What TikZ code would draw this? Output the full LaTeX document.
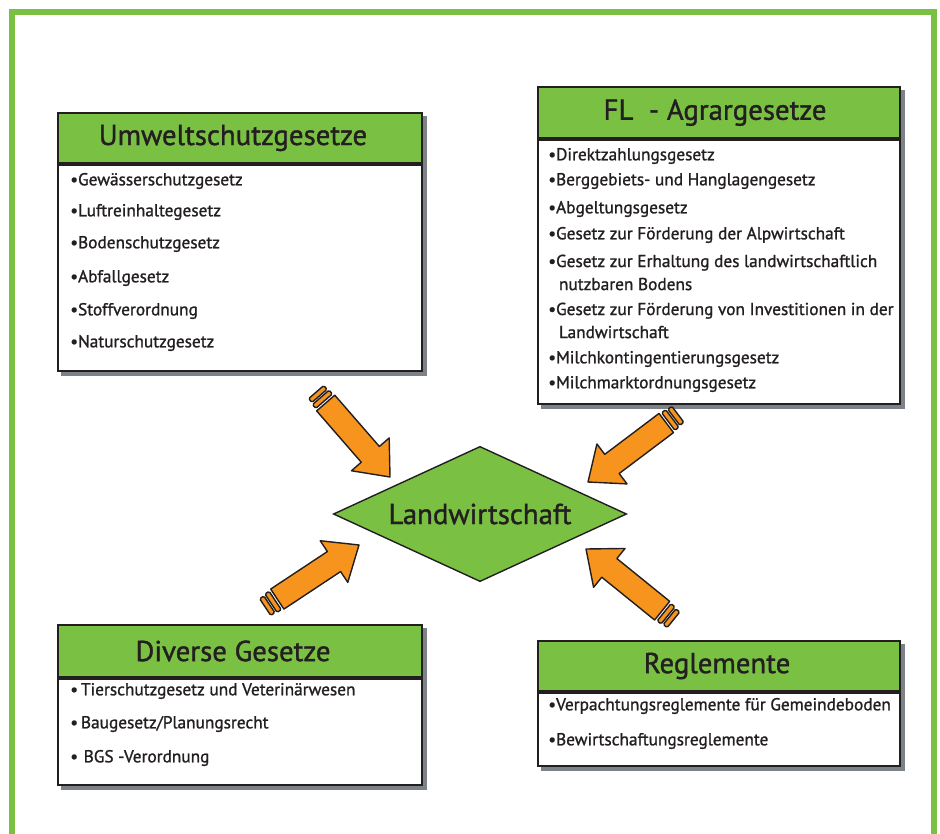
\documentclass[tikz,border=0pt]{standalone}
\usepackage{fontspec}
\setmainfont{PT Sans}[FakeBold=1.2]
\usetikzlibrary{shapes.geometric, positioning, backgrounds}
\definecolor{framegreen}{RGB}{122,193,67}
\definecolor{lawgreen}{RGB}{122,193,67}
\definecolor{arroworange}{RGB}{247,148,29}
\definecolor{inkdark}{RGB}{35,31,32}
\definecolor{shadowgray}{RGB}{125,130,136}

\tikzset{
  blockarrow/.pic={
    \filldraw[fill=arroworange, draw=inkdark, line width=1pt, line join=round]
      (0,0) -- (-30,25) -- (-30,12) -- (-98,12) -- (-98,-12) -- (-30,-12) -- (-30,-25) -- cycle;
    \filldraw[fill=arroworange, draw=inkdark, line width=1pt, rounded corners=1pt]
      (-100.5,-11) rectangle (-105.5,11);
    \filldraw[fill=arroworange, draw=inkdark, line width=1pt, rounded corners=1pt]
      (-107.5,-10) rectangle (-112.5,10);
  }
}

\begin{document}
\begin{tikzpicture}[x=0.025cm, y=-0.025cm,
  hdr/.style={draw=inkdark, line width=1.4pt, fill=lawgreen, anchor=north west,
              minimum width=9.1cm, minimum height=1.25cm,
              font=\fontsize{20.5}{24}\selectfont, text=inkdark},
  bodybox/.style={draw=inkdark, line width=1.4pt, fill=white, anchor=north,
                  minimum width=9.1cm},
  item/.style={anchor=west, font=\fontsize{12.3}{16.4}\selectfont, align=left,
               inner sep=0pt, text=inkdark},
]
  \useasboundingbox (0,0) rectangle (940,834);
  \draw[framegreen, line width=0.15cm] (12,834) -- (12,12) -- (934,12) -- (934,834);

  % Umweltschutzgesetze
  \node[hdr] (umwelt) at (57,112) {Umweltschutzgesetze\hspace*{0.35cm}};
  \node[bodybox, minimum height=5.15cm] (umwelt-body) at (umwelt.south) {};
  \foreach \y/\txt [count=\i] in {181/Gewässerschutzgesetz, 212/Luftreinhaltegesetz,
      244/Bodenschutzgesetz, 278/Abfallgesetz, 311/Stoffverordnung, 343/Naturschutzgesetz}
    \node[item] (umwelt-\i) at (70,\y) {•\txt};

  % FL - Agrargesetze
  \node[hdr, minimum width=9.05cm, minimum height=1.28cm] (agrar) at (537,86) {FL~~- Agrargesetze\hspace*{0.2cm}};
  \node[bodybox, minimum width=9.05cm, minimum height=6.6cm] (agrar-body) at (agrar.south) {};
  \foreach \y/\txt [count=\i] in {156/Direktzahlungsgesetz, 181/Berggebiets- und Hanglagengesetz,
      209/Abgeltungsgesetz, 235/Gesetz zur Förderung der Alpwirtschaft,
      272.5/{Gesetz zur Erhaltung des landwirtschaftlich\\\phantom{•}\,nutzbaren Bodens},
      320.5/{Gesetz zur Förderung von Investitionen in der\\\phantom{•}\,Landwirtschaft},
      359/Milchkontingentierungsgesetz, 384/Milchmarktordnungsgesetz}
    \node[item] (agrar-\i) at (548,\y) {•\txt};

  % Diverse Gesetze
  \node[hdr, minimum height=1.3cm] (diverse) at (57,624) {Diverse Gesetze\hspace*{0.35cm}};
  \node[bodybox, minimum height=2.65cm] (diverse-body) at (diverse.south) {};
  \foreach \y/\txt [count=\i] in {691/\,Tierschutzgesetz und Veterinärwesen,
      724/{\,Baugesetz/Planungsrecht}, 758/\hspace{4pt}BGS -Verordnung}
    \node[item] (diverse-\i) at (70,\y) {•\txt};

  % Reglemente
  \node[hdr, minimum width=9.05cm] (regl) at (537,640) {Reglemente\hspace*{0.1cm}};
  \node[bodybox, minimum width=9.05cm, minimum height=1.83cm] (regl-body) at (regl.south) {};
  \foreach \y/\txt [count=\i] in {706/Verpachtungsreglemente für Gemeindeboden,
      741/Bewirtschaftungsreglemente}
    \node[item] (regl-\i) at (548,\y) {•\txt};

  % shadows behind the boxes
  \begin{scope}[on background layer]
    \foreach \b in {umwelt, agrar, diverse, regl}
      \fill[shadowgray] ([shift={(4,4)}]\b.north west) rectangle ([shift={(4,4)}]\b-body.south east);
  \end{scope}

  % centre
  \node[diamond, draw=inkdark, line width=1pt, fill=lawgreen, aspect=2.17, inner sep=0pt,
        minimum width=7.33cm, minimum height=3.38cm, text=inkdark,
        font=\fontsize{20.5}{24}\selectfont] (farm) at (480,514) {Landwirtschaft};

  % arrows towards the centre
  \coordinate (tip-umwelt) at (390,477);
  \coordinate (tip-agrar) at (588,482);
  \coordinate (tip-diverse) at (359,545);
  \coordinate (tip-regl) at (586,549);
  \pic[rotate=-49] at (tip-umwelt) {blockarrow};
  \pic[rotate=-143] at (tip-agrar) {blockarrow};
  \pic[rotate=33.5] at (tip-diverse) {blockarrow};
  \pic[rotate=141] at (tip-regl) {blockarrow};
\end{tikzpicture}
\end{document}
